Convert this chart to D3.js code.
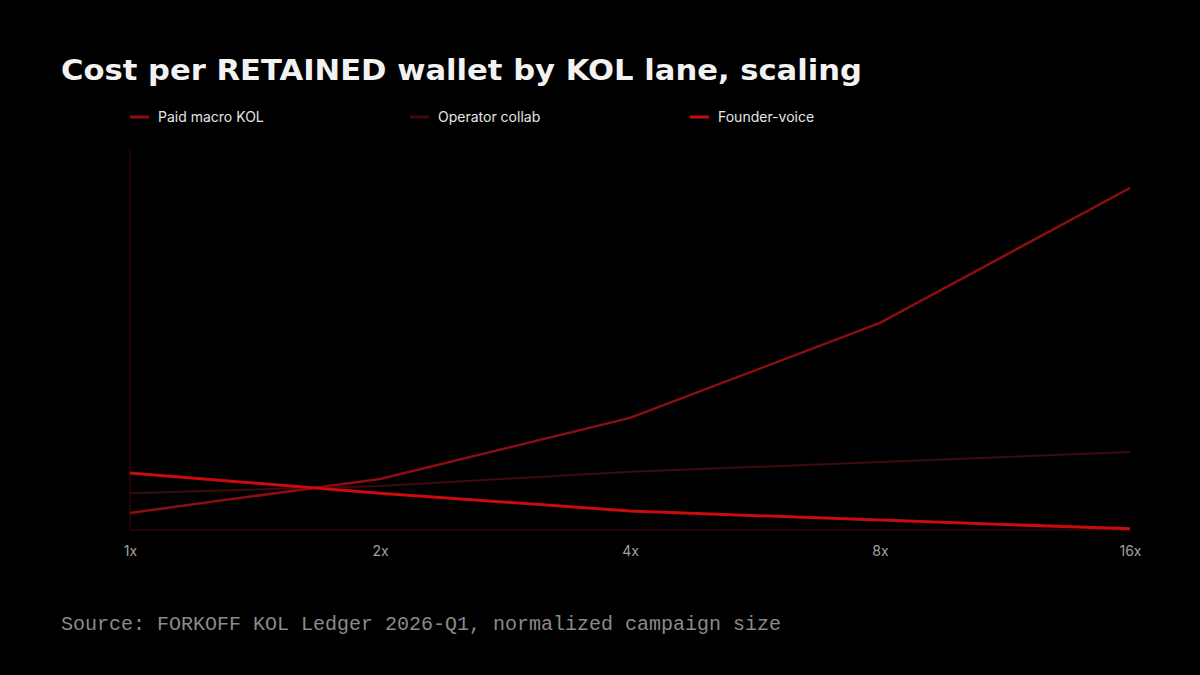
<!DOCTYPE html>
<html lang="en">
<head>
<meta charset="UTF-8">
<title>Cost per retained wallet</title>
<script src="https://d3js.org/d3.v7.min.js"></script>
<style>
    body { margin: 0; background: #000; }
    svg { display: block; }
    .title { font: bold 29px "DejaVu Sans", sans-serif; fill: #f2f2f2; }
    .legend text { font: 14px Inter, "Noto Sans", sans-serif; fill: #e6e6e6; }
    .tick text { font: 14px Inter, "Noto Sans", sans-serif; fill: #a0a0a0; }
    .source { font: 20px "Liberation Mono", "DejaVu Sans Mono", monospace; fill: #8a8a8a; }
</style>
</head>
<body>
<svg id="chart"></svg>
<script>
const scales = ["1x", "2x", "4x", "8x", "16x"];
const sizes = [1, 2, 4, 8, 16];
const seriesNames = ["Paid macro KOL", "Operator collab", "Founder-voice"];
const paidMacro = [4.5, 13.4, 29.5, 54.5, 90];
const operatorCollab = [9.7, 11.6, 15.3, 17.9, 20.5];
const founderVoice = [15, 9.7, 5, 2.6, 0.3];

const colors = ["#8c0e10", "#3e0a0b", "#c90a0e"];
const widths = [2.5, 2, 3];

const width = 1200, height = 675;
const margin = { left: 130, right: 70, top: 150, bottom: 145 };

const svg = d3.select("#chart").attr("width", width).attr("height", height);
svg.append("rect").attr("width", width).attr("height", height).attr("fill", "#000");

svg.append("text").attr("class", "title")
    .attr("x", 61).attr("y", 80)
    .attr("textLength", 801).attr("lengthAdjust", "spacingAndGlyphs")
    .text("Cost per RETAINED wallet by KOL lane, scaling");

// legend
const legend = svg.append("g").attr("class", "legend");
seriesNames.forEach((name, i) => {
    const g = legend.append("g").attr("transform", `translate(${130 + i * 280},117)`);
    g.append("line").attr("x1", 0).attr("x2", 19).attr("y1", 0).attr("y2", 0)
        .attr("stroke", colors[i]).attr("stroke-width", 3);
    g.append("text").attr("x", 28).attr("y", 0).attr("dy", "0.35em").text(name);
});

const x = d3.scaleLog().base(2).domain([1, 16]).range([margin.left, width - margin.right]);
const y = d3.scaleLinear().domain([0, 100]).range([height - margin.bottom, margin.top]);

// axes
svg.append("line").attr("x1", x(1)).attr("x2", x(1))
    .attr("y1", y(0)).attr("y2", y(100))
    .attr("stroke", "#2e0707").attr("stroke-width", 1.5);
svg.append("line").attr("x1", x(1)).attr("x2", x(16))
    .attr("y1", y(0)).attr("y2", y(0))
    .attr("stroke", "#2e0707").attr("stroke-width", 1.5);

const xAxis = d3.axisBottom(x).tickValues(sizes).tickFormat((d, i) => scales[i]).tickSize(0).tickPadding(16);
svg.append("g").attr("transform", `translate(0,${y(0)})`).call(xAxis)
    .call(g => g.select(".domain").remove())
    .selectAll("text").attr("font-size", null).attr("font-family", null);

const line = d3.line().x((d, i) => x(sizes[i])).y(d => y(d));
[paidMacro, operatorCollab, founderVoice].forEach((vals, i) => {
    svg.append("path").datum(vals)
        .attr("d", line)
        .attr("fill", "none")
        .attr("stroke", colors[i])
        .attr("stroke-width", widths[i])
        .attr("stroke-linejoin", "round");
});

svg.append("text").attr("class", "source")
    .attr("x", 61).attr("y", 630)
    .text("Source: FORKOFF KOL Ledger 2026-Q1, normalized campaign size");
</script>
</body>
</html>
